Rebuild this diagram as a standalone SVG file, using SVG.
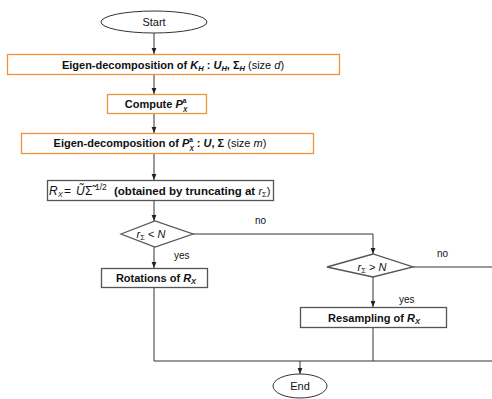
<svg xmlns="http://www.w3.org/2000/svg" width="492" height="399" viewBox="0 0 492 399">
<defs>
<marker id="ah" viewBox="0 0 10 10" refX="10" refY="5" markerWidth="6" markerHeight="6" orient="auto" markerUnits="userSpaceOnUse">
<path d="M0,1 L10,5 L0,9 Z" fill="#222"/>
</marker>
<style>
text{font-family:"Liberation Sans","DejaVu Sans",sans-serif;font-size:11px;fill:#111}
.t{text-anchor:middle}
.b{font-weight:bold}
.i{font-style:italic}
.n{font-weight:normal}
.s{font-size:7.5px}
.ss{font-size:6.5px}
.m{font-size:12px}
.ob{fill:#fff;stroke:#f0923a;stroke-width:1.3}
.gb{fill:#fff;stroke:#555;stroke-width:1.3}
.el{fill:#fff;stroke:#333;stroke-width:1}
.c{fill:none;stroke:#333;stroke-width:1}
.lbl{font-size:10px}
</style>
</defs>
<g id="connectors">
<line class="c" x1="154" y1="33" x2="154" y2="54" marker-end="url(#ah)"/>
<line class="c" x1="154" y1="74" x2="154" y2="94" marker-end="url(#ah)"/>
<line class="c" x1="154" y1="114" x2="154" y2="133" marker-end="url(#ah)"/>
<line class="c" x1="154" y1="154" x2="154" y2="180" marker-end="url(#ah)"/>
<line class="c" x1="154" y1="201" x2="154" y2="221" marker-end="url(#ah)"/>
<line class="c" x1="154" y1="247" x2="154" y2="268" marker-end="url(#ah)"/>
<polyline class="c" points="193,234 373,234 373,254" marker-end="url(#ah)"/>
<line class="c" x1="373" y1="277" x2="373" y2="307" marker-end="url(#ah)"/>
<line class="c" x1="413" y1="267" x2="492" y2="267"/>
<polyline class="c" points="154,288 154,361 492,361"/>
<line class="c" x1="373" y1="328" x2="373" y2="361"/>
<line class="c" x1="300" y1="361" x2="300" y2="374" marker-end="url(#ah)"/>
<text class="lbl" x="255" y="224">no</text>
<text class="lbl" x="437" y="257">no</text>
<text class="lbl" x="174" y="259">yes</text>
<text class="lbl" x="399" y="303">yes</text>
</g>
<g id="start">
<ellipse class="el" cx="154" cy="22" rx="53" ry="11"/>
<text class="t" x="154" y="26">Start</text>
</g>
<g id="eig-kh">
<rect class="ob" x="7.5" y="54.5" width="332" height="20"/>
<text class="t b" x="173" y="68.5">Eigen-decomposition of <tspan class="i">K</tspan><tspan class="i s" dy="2">H</tspan><tspan dy="-2"> : </tspan><tspan class="i">U</tspan><tspan class="i s" dy="2">H</tspan><tspan dy="-2">, Σ</tspan><tspan class="i s" dy="2">H</tspan><tspan class="n" dy="-2"> (size </tspan><tspan class="n i">d</tspan><tspan class="n">)</tspan></text>
</g>
<g id="compute">
<rect class="ob" x="107.5" y="94.5" width="99" height="19"/>
<text class="t b" x="156" y="108">Compute <tspan class="i">P</tspan><tspan class="ss" dy="-5">a</tspan><tspan class="i ss" dx="-3.5" dy="8.5">X</tspan></text>
</g>
<g id="eig-px">
<rect class="ob" x="21.5" y="133.5" width="292" height="20"/>
<text class="t b" x="160" y="147">Eigen-decomposition of <tspan class="i">P</tspan><tspan class="ss" dy="-5">a</tspan><tspan class="i ss" dx="-3.5" dy="8.5">X</tspan><tspan dy="-3.5"> : </tspan><tspan class="i">U</tspan>, Σ<tspan class="n"> (size </tspan><tspan class="n i">m</tspan><tspan class="n">)</tspan></text>
</g>
<g id="rx">
<rect class="gb" x="47.5" y="180.5" width="226" height="20"/>
<text x="49" y="194.5"><tspan class="i m">R</tspan><tspan class="i s" dy="2">X</tspan><tspan class="m" x="64" dy="-2">=</tspan><tspan class="i m" x="76">Ũ</tspan><tspan class="m" x="85">Σ̃</tspan><tspan class="s" x="95" dy="-4.5" style="font-size:8.5px">1/2</tspan><tspan class="b" x="114" dy="4.5" style="font-size:11.5px">(obtained by truncating at </tspan><tspan class="i">r</tspan><tspan class="s" dy="2">Σ</tspan><tspan dy="-2">)</tspan></text>
</g>
<g id="cond1">
<polygon class="gb" points="121,234 155,221 193,234 155,247"/>
<text class="t" x="151" y="238"><tspan class="i">r</tspan><tspan class="s" dy="2">Σ</tspan><tspan dy="-2"> &lt; </tspan><tspan class="i">N</tspan></text>
</g>
<g id="rotations">
<rect class="gb" x="101.5" y="268.5" width="106" height="19"/>
<text class="t b" x="156" y="282">Rotations of <tspan class="i">R</tspan><tspan class="i s" dy="2">X</tspan></text>
</g>
<g id="cond2">
<polygon class="gb" points="327,267 373,254 413,267 373,277"/>
<text class="t" x="372" y="271"><tspan class="i">r</tspan><tspan class="s" dy="2">Σ</tspan><tspan dy="-2"> &gt; </tspan><tspan class="i">N</tspan></text>
</g>
<g id="resampling">
<rect class="gb" x="300.5" y="307.5" width="146" height="20"/>
<text class="t b" x="374" y="321.5">Resampling of <tspan class="i">R</tspan><tspan class="i s" dy="2">X</tspan></text>
</g>
<g id="end">
<ellipse class="el" cx="300" cy="386" rx="27" ry="12"/>
<text class="t" x="300" y="390">End</text>
</g>
</svg>
